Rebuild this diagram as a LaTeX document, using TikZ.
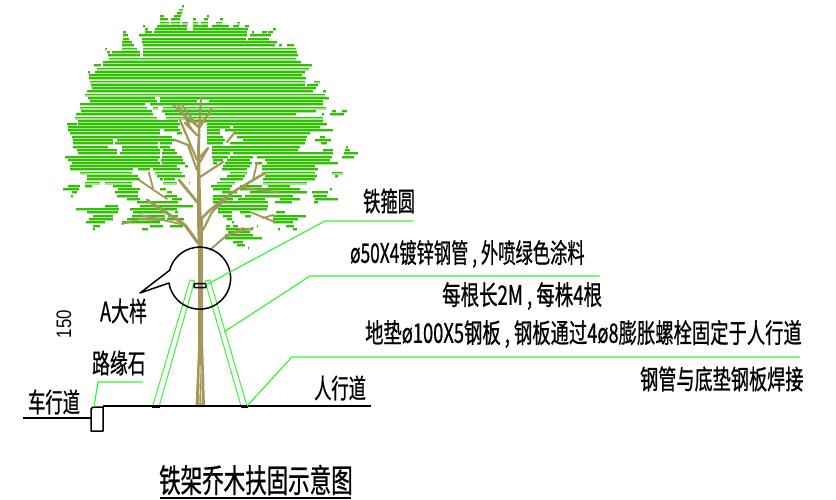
\documentclass[tikz,border=0pt]{standalone}
\usepackage{fontspec}
\newfontfamily\cjk[FakeBold=0.9]{Noto Sans CJK SC}
\newfontfamily\arialish{Liberation Sans}
\definecolor{leafd}{RGB}{52,190,8}
\definecolor{leafl}{RGB}{165,232,145}
\definecolor{bark}{RGB}{163,152,90}
\definecolor{lead}{RGB}{55,245,55}
\tikzset{
  fd/.style={draw=leafd,line width=1.9pt},
  fl/.style={draw=leafl,line width=1.3pt},
  br/.style={draw=bark,line width=#1,line cap=round,line join=round},
  leader/.style={draw=lead,line width=1.2pt},
  ink/.style={draw=black,line width=1.5pt},
  lab/.style={font=\cjk\fontsize{24}{24}\selectfont,text=black,inner sep=0pt,xscale=.72,yscale=1.12}
}
\newcommand{\fr}[2]{\foreach \a/\b in {#2}{\draw[fl] (\a,#1+1.6) -- (\b,#1+1.6);\draw[fd] (\a,#1) -- (\b,#1);}}
\begin{document}
\begin{tikzpicture}[x=1pt,y=-1pt]
\useasboundingbox (0,0) rectangle (836,500);
\fill[white] (0,0) rectangle (836,500);
% foliage
\fr{6}{182/184}\fr{9.5}{179/183}\fr{12.7}{177/182}
\fr{16}{160/164,174/181,207/209}
\fr{19}{160/168,171/180,193/196,204/208,220/223}
\fr{22.5}{160/169,171/180,182/188,193/198,201/208,216/222,237/240}
\fr{25.7}{143/145,157/187,193/208,212/229,233/239,245/249}
\fr{29}{145/148,155/187,193/248,273/276}
\fr{32}{123/126,145/152,154/247,252/254,262/267,268/273}
\fr{35}{123/128,139/144,143/247,250/271}
\fr{38.7}{123/129,142/246,248/269}
\fr{42}{122/132,142/277}
\fr{45}{122/134,143/275,279/282,287/294}
\fr{48.5}{105/107,122/137,143/296}
\fr{52}{107/110,112/140,143/297}
\fr{55}{108/140,143/298}
\fr{58.5}{109/296}
\fr{62}{103/301}
\fr{65}{94/101,103/312}
\fr{68.5}{97/309}
\fr{72}{88/90,95/305}
\fr{75}{89/302}\fr{78}{89/306}
\fr{81.5}{90/305,314/320}
\fr{85}{91/305,307/318}
\fr{88}{92/316}
\fr{91}{87/313,323/326}
\fr{94.5}{85/325}
\fr{98}{88/155,160/329}
\fr{101}{90/157,160/197,209/323}
\fr{104}{80/145,150/323}
\fr{107.5}{80/147,153/158,163/326}
\fr{111}{81/152,162/316,332/336,342/347}
\fr{114}{76/153,165/296,322/324,330/344}
\fr{117.5}{75/157,166/323}
\fr{121}{78/178,186/323}
\fr{124}{67/77,78/180,207/327}
\fr{127}{68/178,207/230,233/320}
\fr{130}{68/160,164/180,207/220,225/333}
\fr{133}{70/160,177/182,207/220,235/310}
\fr{137}{72/172,207/223,237/307,320/325}
\fr{140}{73/113,117/175,207/225,243/306,315/331}
\fr{143}{73/113,115/158,160/172,207/223,230/305,321/327}
\fr{147}{73/108,122/158,160/170,212/300,346/348}
\fr{150}{77/117,122/160,163/175,212/298,323/333,345/350}
\fr{153}{78/117,120/160,162/177,212/230,233/255,255/333,344/358}
\fr{157}{65/160,162/182,212/228,230/253,257/332,342/354}
\fr{160}{68/158,161/183,213/223,227/250,265/330}
\fr{163}{72/160,162/185,213/217,225/252,255/262,267/338}
\fr{166}{70/177,185/188,223/250,262/315}
\fr{169}{70/133,138/150,153/180,222/247,262/318}
\fr{172.5}{80/132,148/150,155/182,230/247,262/315,332/343}
\fr{176}{87/138,157/185,227/245,265/317,335/338}
\fr{179}{87/140,160/163,164/175,220/243,263/315}
\fr{182.5}{85/100,105/132,163/177,189/190,217/235,263/307}
\fr{186}{68/80,85/92,113/132,211/232,240/262,268/290}
\fr{189}{63/79,118/140,160/166,213/230,240/300,330/332}
\fr{192}{72/77,115/138,167/172,222/237,250/307,312/328}
\fr{196}{71/73,117/138,165/177,213/242,245/293,313/327}
\fr{199}{127/140,172/182,213/233,238/265,280/300,315/338}
\fr{202}{137/178,213/268,275/292,314/318}
\fr{205.6}{105/118,140/193,217/268}
\fr{209}{76/119,130/177,218/267}
\fr{212}{87/118,133/168,175/178,218/232,240/250,276/285}
\fr{216}{93/113,132/165,168/178,223/232,245/251,273/306}
\fr{219}{89/113,127/165,167/184,227/232,273/298}
\fr{222}{86/105,122/160,232/234,273/293}
\fr{225.6}{93/100,150/163,170/183,226/230,233/238,257/258,286/294}
\fr{229}{93/95,142/148,226/253,278/280,293/297}
\fr{232}{228/250}\fr{235}{225/253}\fr{238}{225/262}
\fr{242}{233/243}\fr{245}{237/245}\fr{248}{248/249}
% tree
\fill[bark] (195.5,407) -- (198,350) -- (198,250) -- (197,220) -- (197,150) -- (198,127) -- (200,97) -- (202,97) -- (200.5,127) -- (200,150) -- (201,200) -- (203,250) -- (203,340) -- (205,407) -- cycle;
\draw[white,line width=.4pt] (199,407) -- (200,365) (201.5,407) -- (201,365);
\draw[br=2pt] (198,127) -- (173,105) (198,127) -- (182,105) (192,130) -- (178,105) (198,127) -- (210,113);
\draw[br=2pt] (212,108) -- (200,127);
\draw[br=2.2pt] (180,120) -- (197,160) (175,140) -- (188,145) -- (197,170) (185,123) -- (197,135);
\draw[br=2.2pt] (200,157) -- (208,148) (200,162) -- (208,148) (200,177) -- (223,162) (235,132) -- (227,142);
\draw[br=2.8pt] (179,180) -- (198,203);
\draw[br=3pt] (147,200) -- (170,215) -- (185,225) -- (198,243);
\draw[br=1.8pt] (122,224) -- (140,219) -- (160,220) (140,215) -- (185,225);
\draw[br=1.8pt] (139,180) -- (167,199) (149,173) -- (153,188);
\draw[br=2.6pt] (265,173) -- (233,192) -- (210,210) -- (200,220);
\draw[br=2.2pt] (233,192) -- (212,212) -- (203,230);
\draw[br=1.9pt] (257,163) -- (253,180) (277,192) -- (243,188) (250,212) -- (275,222) (273,215) -- (263,218);
\draw[br=1.9pt] (253,228) -- (227,235) -- (210,250) (243,228) -- (225,237);
\draw[br=1.8pt] (202,217) -- (202,250);
% braces
\draw[leader,line width=1pt] (190,280) -- (194.5,281) -- (159.3,406) -- (152.7,406) -- cycle;
\draw[leader,line width=1pt] (205,281) -- (210,280) -- (247,406) -- (241,406) -- cycle;
% ground
\coordinate (groundL) at (103,406);
\coordinate (groundR) at (371,406);
\coordinate (roadL) at (23,418);
\coordinate (roadR) at (91,418);
\draw[ink] (groundL) -- (groundR);
\draw[ink] (roadL) -- (roadR);
\draw[ink,line join=round] (91,431) -- (91,409) -- (93,407) -- (103,407) -- (103,431) -- cycle;
\draw[black,line width=3pt] (152,406) -- (160,406) (241,406) -- (248,406);
% bubble and hoop
\draw[ink,line join=round] (170,270) -- (140,293) -- (169,283) arc[start angle=171,end angle=-165,radius=31];
\node[draw=black,line width=1.5pt,rounded corners=1pt,minimum width=12pt,minimum height=4.2pt,inner sep=0pt] (hoop) at (200,285.6) {};
% leaders
\coordinate (hoopEnd) at (206,285);
\coordinate (l1a) at (325,221);
\coordinate (l1b) at (413,221);
\coordinate (pipeEnd) at (224,332);
\coordinate (l2a) at (310,276);
\coordinate (l2b) at (600,276);
\coordinate (baseEnd) at (247,406);
\coordinate (l3a) at (292,357);
\coordinate (l3b) at (800,357);
\coordinate (curbEnd) at (94,407);
\coordinate (l4a) at (98,382);
\coordinate (l4b) at (143,382);
\draw[leader] (hoopEnd) -- (l1a) -- (l1b);
\draw[leader] (pipeEnd) -- (l2a) -- (l2b);
\draw[leader] (baseEnd) -- (l3a) -- (l3b);
\draw[leader] (curbEnd) -- (l4a) -- (l4b);
% labels
\node[lab,anchor=west] (t1) at (363,201) {铁箍圆};
\node[lab,anchor=west] (t2) at (350,254) {ø50X4镀锌钢管 , 外喷绿色涂料};
\node[lab,anchor=west,xscale=1.07] (t3) at (442,296) {每根长2M , 每株4根};
\node[lab,anchor=west,xscale=1.06] (t4) at (365,334) {地垫ø100X5钢板 , 钢板通过4ø8膨胀螺栓固定于人行道};
\node[lab,anchor=west,xscale=1.05] (t5) at (640,379) {钢管与底垫钢板焊接};
\node[lab,anchor=west] (t6) at (314,388) {人行道};
\node[lab,anchor=west] (t7) at (28,402) {车行道};
\node[lab,anchor=west,xscale=1.03] (t8) at (92,363) {路缘石};
\node[lab,anchor=west,xscale=1.04] (t9) at (100,311) {A大样};
\node[font=\arialish\fontsize{21}{21}\selectfont,rotate=90,xscale=.8,inner sep=0pt] (t10) at (64,324) {150};
\node[lab,anchor=west,font=\cjk\fontsize{29}{29}\selectfont,xscale=1.03] (t11) at (159,480) {铁架乔木扶固示意图};
\coordinate (ulL) at (160,497.5);
\coordinate (ulR) at (351,497.5);
\draw[black,line width=2pt] (ulL) -- (ulR);
\end{tikzpicture}
\end{document}
